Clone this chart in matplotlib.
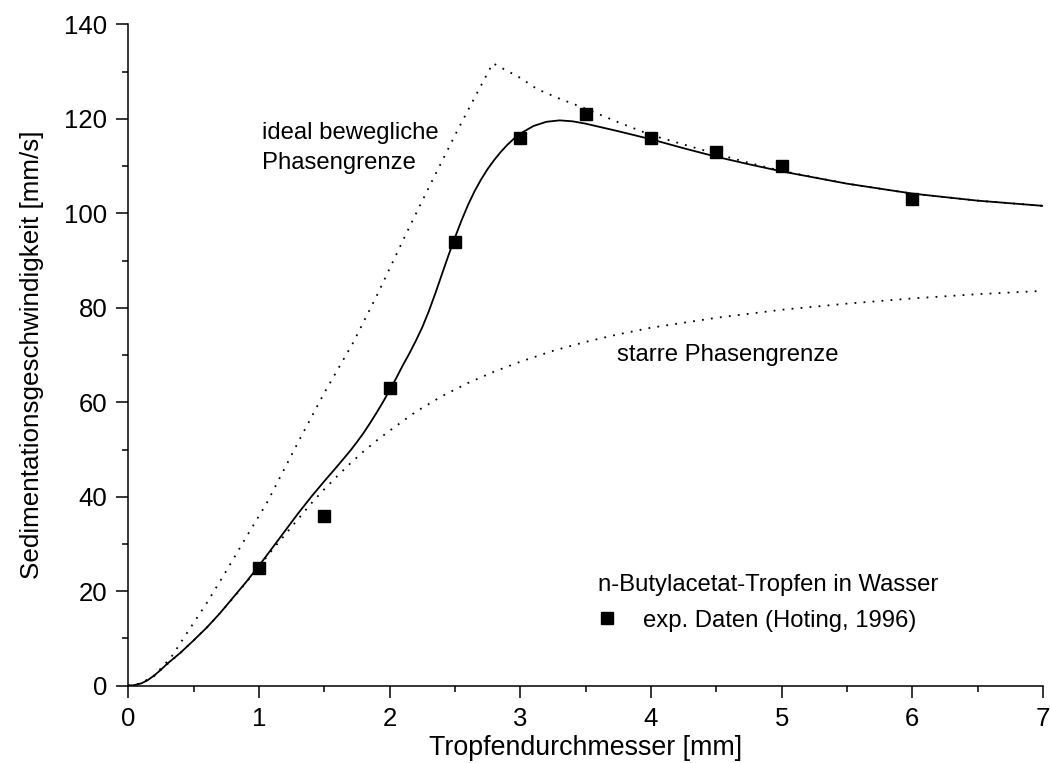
import matplotlib
matplotlib.use('Agg')
import matplotlib.pyplot as plt
from matplotlib.ticker import MultipleLocator

plt.rcParams['font.family'] = ['Liberation Sans', 'DejaVu Sans']

# experimental data (Hoting, 1996)
d_exp = [1.0, 1.5, 2.0, 2.5, 3.0, 3.5, 4.0, 4.5, 5.0, 6.0]
v_exp = [25, 36, 63, 94, 116, 121, 116, 113, 110, 103]

# model curve (solid)
d_model = [0, 0.05, 0.1, 0.15, 0.2, 0.25, 0.3, 0.4, 0.5, 0.6, 0.7, 0.8, 0.9, 1.0, 1.1, 1.2, 1.3, 1.4,
           1.5, 1.6, 1.7, 1.75, 1.8, 1.85, 1.9, 1.95, 2.0, 2.05, 2.1, 2.15, 2.2, 2.25, 2.3, 2.35,
           2.4, 2.45, 2.5, 2.55, 2.6, 2.65, 2.7, 2.75, 2.8, 2.85, 2.9, 2.95, 3.0, 3.1, 3.2, 3.3,
           3.4, 3.5, 3.75, 4.0, 4.25, 4.5, 4.75, 5.0, 5.5, 6.0, 6.5, 7.0]
v_model = [0, 0.15, 0.5, 1.2, 2.2, 3.4, 4.7, 7.0, 9.6, 12.3, 15.3, 18.6, 21.9, 25.4, 29.1, 32.8, 36.5, 40.0,
           43.3, 46.5, 49.8, 51.6, 53.5, 55.6, 57.8, 60.1, 62.6, 65.1, 67.8, 70.3, 73.0, 75.9, 79.3, 83.1,
           87.1, 91.1, 94.9, 98.5, 101.8, 104.7, 107.2, 109.4, 111.3, 113.0, 114.5, 115.8, 116.9, 118.5, 119.4, 119.7,
           119.5, 119.0, 117.4, 115.7, 113.8, 112.0, 110.4, 108.9, 106.3, 104.2, 102.7, 101.6]

# ideal mobile interface (dotted)
d_ideal = [0, 0.1, 0.2, 0.33, 0.45, 0.6, 0.75, 0.89, 1.06, 1.31, 1.5, 1.72, 1.9, 2.13, 2.3,
           2.51, 2.65, 2.79, 3.0, 3.13, 3.3, 3.48, 3.75, 4.0, 4.25, 4.5, 4.75, 5.0, 5.5, 6.0, 6.5, 7.0]
v_ideal = [0, 0.5, 2.2, 6.1, 11.2, 17.5, 24.3, 30.9, 38.7, 52.1, 62.0, 72.6, 82.5, 95.9, 105.5,
           117.1, 124.5, 131.8, 128.7, 126.3, 124.3, 122.4, 119.3, 116.6, 114.6, 112.6, 110.7, 109.0, 106.3, 104.2, 102.7, 101.6]

# rigid interface (dotted)
d_rigid = [0, 0.1, 0.2, 0.3, 0.4, 0.5, 0.6, 0.7, 0.8, 0.9, 1.0, 1.1, 1.2, 1.3, 1.4, 1.5, 1.6,
           1.7, 1.8, 1.9, 2.0, 2.2, 2.4, 2.6, 2.8, 3.0, 3.25, 3.5, 3.75, 4.0, 4.5, 5.0, 5.5, 6.0, 6.5, 7.0]
v_rigid = [0, 0.5, 2.1, 4.6, 7.0, 9.6, 12.3, 15.3, 18.5, 21.8, 25.2, 28.7, 32.0, 35.3, 38.6, 41.6, 44.4,
           47.1, 49.6, 51.9, 54.0, 58.0, 61.3, 64.1, 66.5, 68.6, 70.9, 72.8, 74.4, 75.8, 77.9, 79.6, 80.9, 82.0, 82.9, 83.6]

fig = plt.figure(figsize=(10.5, 7.63), dpi=100)
ax = fig.add_axes([0.1222, 0.1013, 0.8711, 0.8666])

dots = (0, (1, 4))
ax.plot(d_ideal, v_ideal, color='black', lw=1.3, linestyle=dots)
ax.plot(d_rigid, v_rigid, color='black', lw=1.3, linestyle=dots)
ax.plot(d_model, v_model, color='black', lw=1.3)
ax.plot(d_exp, v_exp, linestyle='none', marker='s', ms=9, color='black',
        label='exp. Daten (Hoting, 1996)')

ax.text(1.02, 113.9, 'ideal bewegliche\nPhasengrenze', fontsize=17.2, ha='left', va='center',
        linespacing=1.5)
ax.text(3.74, 70, 'starre Phasengrenze', fontsize=17.2, ha='left', va='center')

leg = ax.legend(loc='center left', bbox_to_anchor=(0.5, 0.125), frameon=False,
                title='n-Butylacetat-Tropfen in Wasser', fontsize=17.2, title_fontsize=17.2,
                handlelength=0.8, handletextpad=1.1, borderpad=0, labelspacing=0.55)
leg._legend_box.align = 'left'

ax.set_xlim(0, 7)
ax.set_ylim(0, 140)
ax.xaxis.set_major_locator(MultipleLocator(1))
ax.xaxis.set_minor_locator(MultipleLocator(0.5))
ax.yaxis.set_major_locator(MultipleLocator(20))
ax.yaxis.set_minor_locator(MultipleLocator(10))
ax.spines['top'].set_visible(False)
ax.spines['right'].set_visible(False)
for s in ['left', 'bottom']:
    ax.spines[s].set_linewidth(1.1)
ax.tick_params(which='major', direction='out', length=8.5, width=1.1, labelsize=18.5)
ax.tick_params(axis='y', which='major', pad=6.5)
ax.tick_params(axis='x', which='major', pad=7)
ax.tick_params(which='minor', direction='out', length=4.5, width=1.1)
for lab in ax.get_xticklabels() + ax.get_yticklabels():
    lab.set_clip_on(False)

ax.set_xlabel('Tropfendurchmesser [mm]', fontsize=19.3, labelpad=3)
ax.set_ylabel('Sedimentationsgeschwindigkeit [mm/s]', fontsize=18.7, labelpad=15)

fig.savefig('out.png', dpi=100)
